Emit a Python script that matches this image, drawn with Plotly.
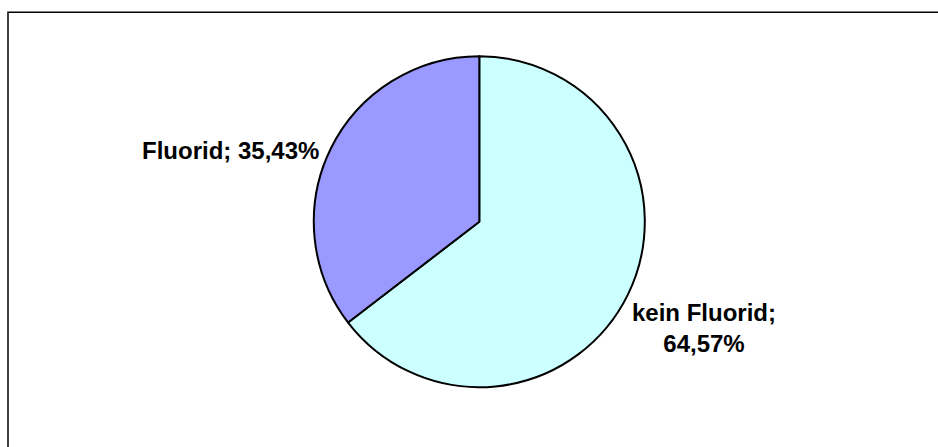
import plotly.graph_objects as go

labels = ["kein Fluorid", "Fluorid"]
values = [64.57, 35.43]
colors = ["#CCFFFF", "#9999FF"]


def fmt(v):
    return f"{v:.2f}".replace(".", ",") + "%"


W, H = 938, 447

fig = go.Figure(
    go.Pie(
        labels=labels,
        values=values,
        sort=False,
        direction="clockwise",
        rotation=0,
        marker=dict(colors=colors, line=dict(color="#000000", width=2)),
        textinfo="none",
        hoverinfo="label+percent",
        showlegend=False,
        domain=dict(x=[313.8 / W, 644.8 / W], y=[59.8 / H, 390.8 / H]),
    )
)

font = dict(family="Liberation Sans, Arial, sans-serif", size=24, color="#000000")

annotations = [
    dict(
        text=f"<b>{labels[1]}; {fmt(values[1])}</b>",
        x=321 / W, y=(H - 150.5) / H, xref="paper", yref="paper",
        xanchor="right", yanchor="middle", showarrow=False, font=font, align="right",
    ),
    dict(
        text=f"<b>{labels[0]};<br>{fmt(values[0])}</b>",
        x=703.5 / W, y=(H - 328) / H, xref="paper", yref="paper",
        xanchor="center", yanchor="middle", showarrow=False, font=font, align="center",
    ),
]

# chart-area frame: only its left and top edges fall inside the picture
fx, fy = 8 / W, (H - 12.3) / H
shapes = [
    dict(type="path", xref="paper", yref="paper",
         path=f"M {fx:.5f},-0.05 L {fx:.5f},{fy:.5f} L 1.05,{fy:.5f}",
         line=dict(color="#000000", width=1.5)),
]

fig.update_layout(
    width=W,
    height=H,
    margin=dict(l=0, r=0, t=0, b=0),
    paper_bgcolor="#FFFFFF",
    plot_bgcolor="#FFFFFF",
    annotations=annotations,
    shapes=shapes,
    font=font,
)

fig.write_html(
    "out.html",
    config={"displayModeBar": False},
    post_script=(
        "document.documentElement.style.margin='0';"
        "document.documentElement.style.overflow='hidden';"
        "document.body.style.margin='0';"
        "document.body.style.overflow='hidden';"
    ),
)
